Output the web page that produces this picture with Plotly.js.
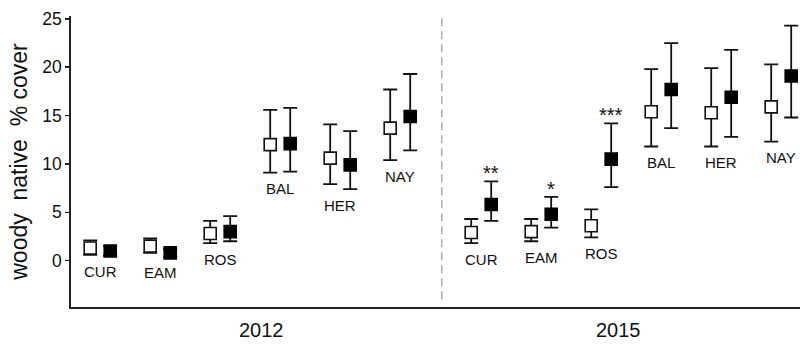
<!DOCTYPE html>
<html>
<head>
<meta charset="utf-8">
<script src="https://cdn.plot.ly/plotly-3.0.1.min.js"></script>
<style>
html,body{margin:0;padding:0;background:#fff;}
#chart{width:800px;height:345px;}
</style>
</head>
<body>
<div id="chart"></div>
<script>
// ---- data ----
const sites = ['CUR','EAM','ROS','BAL','HER','NAY','CUR','EAM','ROS','BAL','HER','NAY'];
const siteYear = [0, 0, 0, 0, 0, 0, 1, 1, 1, 1, 1, 1];
const yearLabels = ['2012','2015'];
const openMean   = [1.3, 1.5, 2.8, 12.0, 10.6, 13.7, 2.9, 3.0, 3.6, 15.4, 15.3, 15.9];
const openUpper  = [2.1, 2.3, 4.1, 15.6, 14.1, 17.7, 4.3, 4.3, 5.3, 19.8, 19.9, 20.3];
const openLower  = [0.6, 0.8, 1.8, 9.1, 7.9, 10.4, 1.8, 2.0, 2.4, 11.8, 11.8, 12.3];
const filledMean  = [1.0, 0.8, 3.0, 12.1, 9.9, 14.9, 5.8, 4.8, 10.5, 17.7, 16.9, 19.1];
const filledUpper = [1.5, 1.2, 4.6, 15.8, 13.4, 19.3, 8.2, 6.6, 14.2, 22.5, 21.8, 24.3];
const filledLower = [0.5, 0.4, 2.0, 9.2, 7.4, 11.4, 4.1, 3.4, 7.6, 13.7, 12.8, 14.8];
const signif = ['', '', '', '', '', '', '**', '*', '***', '', '', ''];

// ---- layout helpers ----
const FONT = 'Liberation Sans, Arial, sans-serif';
const GROUP_GAP = 0.35;
const base = sites.map((s, i) => i + siteYear[i] * GROUP_GAP);
const xOpen = base.slice();
const xFilled = base.map(v => v + 1/3);

function errY(mean, up, lo) {
  return {
    type: 'data', symmetric: false,
    array: up.map((u, i) => u - mean[i]),
    arrayminus: lo.map((l, i) => mean[i] - l),
    color: '#111', thickness: 1.8, width: 7
  };
}

const traces = [
  {
    x: xOpen, y: openMean, type: 'scatter', mode: 'markers',
    error_y: errY(openMean, openUpper, openLower),
    marker: {symbol: 'square', size: 12, color: '#fff', line: {color: '#111', width: 1.6}},
    hoverinfo: 'skip', showlegend: false
  },
  {
    x: xFilled, y: filledMean, type: 'scatter', mode: 'markers',
    error_y: errY(filledMean, filledUpper, filledLower),
    marker: {symbol: 'square', size: 12, color: '#000', line: {color: '#000', width: 1.6}},
    hoverinfo: 'skip', showlegend: false
  }
];

const annotations = [];
sites.forEach((s, i) => {
  annotations.push({
    x: base[i] + 1/6, y: Math.min(openLower[i], filledLower[i]),
    xref: 'x', yref: 'y', text: s, showarrow: false,
    yanchor: 'middle', xanchor: 'center', yshift: -16,
    font: {family: FONT, size: 15, color: '#111'}
  });
  if (signif[i]) {
    annotations.push({
      x: xFilled[i], y: filledUpper[i], xref: 'x', yref: 'y',
      text: signif[i], showarrow: false,
      yanchor: 'bottom', xanchor: 'center', yshift: -5,
      font: {family: FONT, size: 20, color: '#111'}
    });
  }
});
const yearX = [2.85, 8.8];
yearLabels.forEach((t, k) => {
  annotations.push({
    x: yearX[k], y: 0, xref: 'x', yref: 'paper', text: t, showarrow: false,
    yanchor: 'middle', xanchor: 'center', yshift: -23,
    font: {family: FONT, size: 20, color: '#111'}
  });
});

const layout = {
  width: 800, height: 345,
  margin: {l: 71, r: 0, t: 16, b: 38},
  paper_bgcolor: '#fff', plot_bgcolor: '#fff',
  font: {family: FONT, color: '#111'},
  xaxis: {
    range: [-0.32, 11.83], showgrid: false, zeroline: false,
    showticklabels: false, ticks: '', showline: true,
    linecolor: '#222', linewidth: 1.8
  },
  yaxis: {
    range: [-4.8, 25.3], showgrid: false, zeroline: false,
    tickvals: [0, 5, 10, 15, 20, 25], ticks: 'outside', ticklen: 4,
    tickwidth: 1.5, tickcolor: '#222',
    showline: true, linecolor: '#222', linewidth: 1.8,
    tickfont: {family: FONT, size: 17.5, color: '#111'},
    title: {text: 'woody\u00a0\u00a0native\u00a0\u00a0%\u00a0cover', standoff: 8,
            font: {family: FONT, size: 23, color: '#111'}}
  },
  shapes: [{
    type: 'line', xref: 'x', yref: 'y', x0: 5.86, x1: 5.86, y0: -4.0, y1: 25.3,
    line: {color: '#999', width: 1.2, dash: '8px,5px'}
  }],
  annotations: annotations
};

Plotly.newPlot('chart', traces, layout, {displayModeBar: false, staticPlot: true});
</script>
</body>
</html>
